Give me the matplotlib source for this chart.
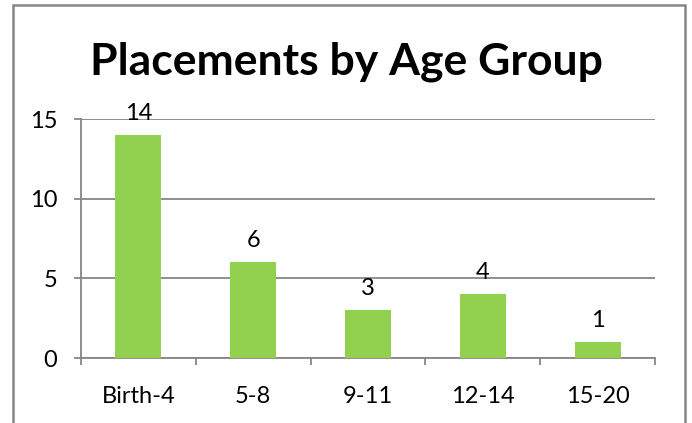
import matplotlib.pyplot as plt
from matplotlib.patches import Rectangle
import numpy as np

# data
age_groups = ["Birth-4", "5-8", "9-11", "12-14", "15-20"]
placements = [14, 6, 3, 4, 1]
y_ticks = [0, 5, 10, 15]

GRAY = "#868686"
GREEN = "#92D050"
FONT = "Lato"

fig = plt.figure(figsize=(6.92, 4.23), dpi=100)
ax = fig.add_axes([81 / 692, 1 - 358 / 423, (655 - 81) / 692, (358 - 119) / 423])

x = np.arange(len(age_groups))
ax.bar(x, placements, width=0.4, color=GREEN, zorder=3)
for xi, v in zip(x, placements):
    ax.annotate(str(v), (xi, v), xytext=(0, 8), textcoords="offset points",
                ha="center", va="bottom", fontsize=17, family=FONT)

ax.set_xlim(-0.5, len(age_groups) - 0.5)
ax.set_ylim(0, 15)
ax.set_yticks(y_ticks)
ax.set_yticklabels([str(t) for t in y_ticks], family=FONT, fontsize=17)
ax.set_xticks(x)
ax.set_xticklabels(age_groups, family=FONT, fontsize=17)
ax.tick_params(axis="x", which="major", length=0, pad=20)
ax.set_xticks(np.arange(-0.5, len(age_groups)), minor=True)
ax.tick_params(axis="x", which="minor", length=5, color=GRAY, width=1.3, direction="out")
ax.tick_params(axis="y", length=5, color=GRAY, width=1.3, pad=12)

ax.grid(axis="y", color=GRAY, linewidth=1.3, zorder=0)
for side in ["top", "right"]:
    ax.spines[side].set_visible(False)
for side in ["left", "bottom"]:
    ax.spines[side].set_color(GRAY)
    ax.spines[side].set_linewidth(1.3)

fig.text(0.5, 1 - 62 / 423, "Placements by Age Group", ha="center", va="center",
         fontsize=32, fontweight="bold", family=FONT)

# chart border
fig.patches.append(Rectangle((13 / 692, -0.05), (685 - 13) / 692, 1.05 - 5 / 423,
                             transform=fig.transFigure, fill=False,
                             edgecolor=GRAY, linewidth=1.8))

fig.savefig("out.png", dpi=100)
